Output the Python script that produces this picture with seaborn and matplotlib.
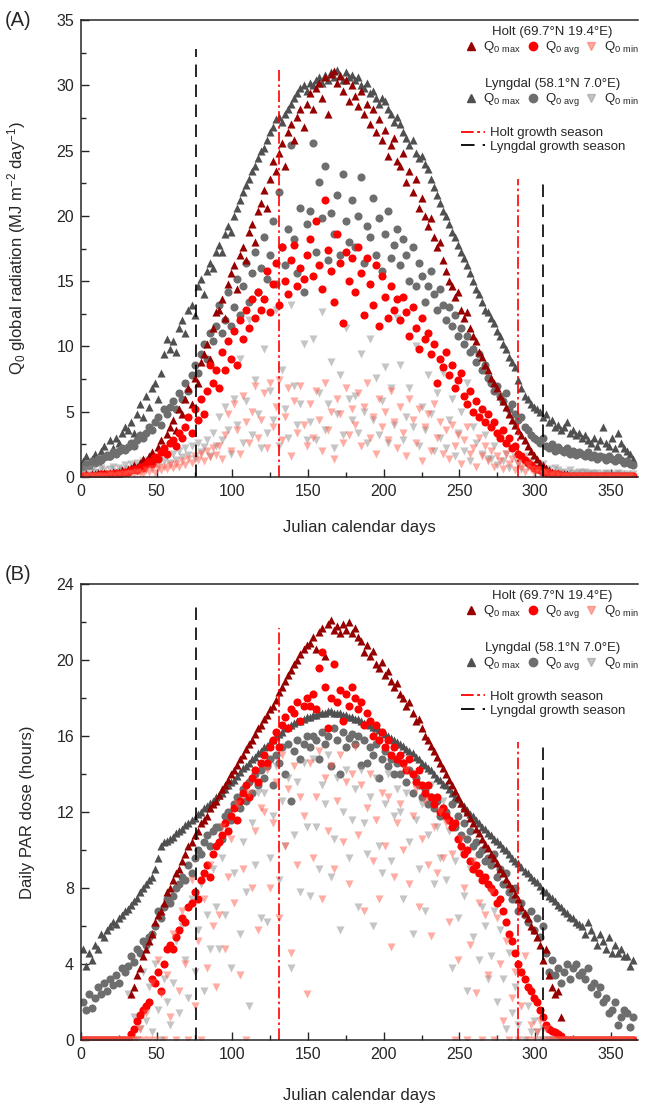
import numpy as np
import matplotlib
matplotlib.use("Agg")
import matplotlib.pyplot as plt
from matplotlib.lines import Line2D
from matplotlib.ticker import MultipleLocator
import seaborn as sns

sns.set_style("ticks")
plt.rcParams["font.family"] = ["Liberation Sans", "DejaVu Sans"]
plt.rcParams["mathtext.default"] = "regular"

# every second day of the year (1, 3, ..., 365)
days = np.arange(1, 366, 2)

# (A) global radiation, MJ m-2 day-1
holt_max_a = [0.1, 0.2, 0.1, 0.2, 0.2, 0.3, 0.2, 0.3, 0.2, 0.3, 0.4, 0.3, 0.4, 0.5, 0.4,
              0.6, 0.7, 0.9, 0.8, 1.1, 1.4, 1.2, 1.6, 1.9, 1.5, 2.3, 2.8, 2.2, 3.3, 3.8,
              4.4, 3.6, 5.2, 4.8, 6.0, 6.8, 5.6, 7.6, 7.2, 8.8, 9.4, 10.2, 9.0, 11.4, 12.6,
              12.8, 13.6, 12.2, 14.8, 15.6, 16.2, 14.4, 17.0, 17.6, 16.6, 18.8, 19.4, 18.0, 20.4, 21.0,
              22.0, 20.6, 22.8, 24.2, 23.4, 24.8, 25.6, 23.8, 26.4, 27.0, 25.8, 27.6, 28.2, 26.8, 28.6,
              29.4, 28.2, 29.8, 30.2, 29.0, 30.6, 27.8, 30.9, 31.1, 30.2, 30.7, 29.6, 30.4, 28.8, 30.0,
              29.2, 28.4, 29.6, 27.8, 28.6, 27.0, 28.2, 26.4, 27.4, 25.8, 26.6, 24.6, 25.4, 26.0, 24.2,
              23.8, 24.8, 22.6, 23.4, 21.8, 22.8, 20.6, 21.4, 20.0, 19.2, 19.8, 18.4, 17.6, 18.0, 16.6,
              15.8, 15.0, 14.6, 13.8, 14.2, 12.8, 12.2, 12.6, 11.4, 10.8, 10.4, 9.6, 9.2, 8.6, 8.2,
              7.6, 7.2, 6.8, 6.2, 5.8, 5.4, 4.8, 4.4, 4.0, 3.6, 3.2, 2.8, 2.4, 2.0, 1.7,
              1.4, 1.1, 0.9, 0.7, 0.5, 0.4, 0.3, 0.3, 0.2, 0.2, 0.2, 0.1, 0.1, 0.1, 0.1,
              0.1, 0.1, 0.1, 0.1, 0.1, 0.1, 0.1, 0.1, 0.1, 0.1, 0.1, 0.1, 0.1, 0.1, 0.1,
              0.1, 0.1, 0.1]
holt_avg_a = [0.1, 0.1, 0.1, 0.1, 0.1, 0.1, 0.2, 0.1, 0.2, 0.2, 0.2, 0.3, 0.2, 0.3, 0.4,
              0.4, 0.5, 0.6, 0.5, 0.8, 0.7, 1.0, 1.2, 1.0, 1.5, 1.4, 1.9, 2.2, 1.8, 2.6,
              2.8, 2.4, 3.4, 3.0, 3.8, 4.6, 3.4, 5.2, 4.4, 6.0, 4.8, 6.6, 8.6, 7.2, 8.2,
              6.8, 9.6, 8.2, 10.4, 9.0, 11.2, 8.6, 12.0, 10.6, 12.8, 11.4, 13.6, 12.2, 14.2, 12.8,
              13.6, 15.8, 12.6, 14.8, 16.4, 13.2, 17.6, 15.0, 14.0, 16.6, 17.8, 14.6, 16.0, 15.2, 17.0,
              18.2, 15.4, 19.6, 16.2, 14.4, 21.2, 17.4, 15.8, 13.4, 18.6, 16.4, 11.8, 17.2, 15.0, 16.8,
              14.2, 17.6, 15.6, 12.4, 16.8, 14.8, 13.2, 16.2, 11.6, 15.4, 13.8, 12.2, 14.6, 12.8, 13.6,
              12.0, 13.8, 12.6, 10.8, 13.0, 11.4, 9.8, 12.2, 10.6, 11.0, 9.4, 10.2, 7.2, 9.0, 8.4,
              9.6, 7.8, 8.6, 6.8, 7.4, 8.0, 6.2, 5.6, 6.6, 5.0, 5.8, 4.6, 5.2, 4.2, 4.8,
              3.8, 4.2, 3.4, 3.0, 3.6, 2.6, 3.0, 2.2, 2.4, 1.8, 1.6, 1.3, 1.1, 0.9, 0.7,
              0.6, 0.5, 0.4, 0.3, 0.3, 0.2, 0.2, 0.2, 0.1, 0.1, 0.1, 0.1, 0.1, 0.1, 0.1,
              0.1, 0.1, 0.1, 0.1, 0.1, 0.1, 0.1, 0.1, 0.1, 0.1, 0.1, 0.1, 0.1, 0.1, 0.1,
              0.1, 0.1, 0.1]
holt_min_a = [0.0, 0.1, 0.0, 0.1, 0.0, 0.1, 0.1, 0.0, 0.1, 0.2, 0.1, 0.1, 0.2, 0.1, 0.2,
              0.2, 0.3, 0.2, 0.4, 0.3, 0.2, 0.5, 0.4, 0.6, 0.3, 0.7, 0.5, 0.8, 0.6, 0.9,
              0.7, 1.0, 0.8, 1.2, 0.9, 1.4, 1.1, 1.6, 1.3, 1.8, 1.2, 2.0, 1.5, 2.2, 1.7,
              2.4, 1.4, 3.2, 4.8, 2.0, 5.6, 3.6, 1.8, 6.2, 4.2, 2.6, 5.0, 7.0, 3.0, 4.4,
              6.4, 2.2, 7.2, 3.8, 5.4, 7.4, 2.8, 4.6, 6.8, 1.6, 5.8, 3.4, 7.0, 4.0, 2.4,
              5.6, 3.0, 6.6, 4.4, 2.0, 7.2, 3.6, 5.0, 1.4, 6.0, 4.8, 2.6, 6.8, 3.2, 5.2,
              4.0, 6.4, 2.4, 5.4, 7.2, 3.0, 4.6, 1.8, 6.0, 3.8, 5.0, 2.8, 6.6, 4.2, 2.2,
              5.4, 3.4, 1.6, 6.0, 4.4, 2.6, 5.2, 1.2, 3.8, 4.8, 2.0, 5.6, 3.0, 4.2, 1.8,
              3.6, 1.4, 4.0, 2.4, 3.2, 1.0, 2.8, 3.8, 1.8, 2.2, 0.8, 3.0, 1.6, 2.4, 1.2,
              2.0, 0.8, 1.6, 1.2, 0.6, 1.8, 1.0, 1.4, 0.5, 1.1, 0.8, 0.4, 0.9, 0.6, 0.3,
              0.5, 0.3, 0.2, 0.4, 0.1, 0.2, 0.1, 0.2, 0.0, 0.1, 0.1, 0.0, 0.1, 0.0, 0.1,
              0.0, 0.1, 0.0, 0.0, 0.1, 0.0, 0.1, 0.0, 0.0, 0.1, 0.0, 0.0, 0.1, 0.0, 0.0,
              0.0, 0.1, 0.0]
lyn_max_a = [1.2, 1.6, 0.9, 1.4, 1.8, 1.2, 2.0, 2.4, 1.6, 2.8, 2.2, 3.0, 2.6, 3.4, 3.8,
             3.6, 4.2, 3.4, 4.8, 5.6, 4.6, 6.2, 5.4, 6.8, 7.2, 6.0, 8.0, 9.4, 10.6, 9.8,
             10.4, 9.6, 11.4, 12.0, 11.0, 12.8, 13.2, 12.4, 14.6, 15.2, 14.0, 15.8, 16.4, 16.0, 17.2,
             17.8, 17.2, 18.6, 19.2, 18.8, 20.0, 20.6, 21.2, 21.8, 22.4, 22.8, 23.4, 23.8, 24.4, 25.0,
             25.2, 25.8, 26.4, 26.8, 27.4, 27.6, 27.2, 27.8, 28.2, 28.6, 29.0, 29.4, 29.8, 30.0, 29.6,
             30.2, 30.0, 30.4, 30.6, 30.2, 30.8, 30.4, 31.0, 30.6, 31.2, 30.8, 30.4, 31.0, 30.6, 30.8,
             30.4, 30.6, 30.0, 29.8, 30.2, 29.4, 29.6, 29.0, 28.6, 29.0, 28.8, 28.2, 27.8, 27.2, 27.6,
             27.0, 26.4, 26.0, 25.4, 25.8, 24.8, 24.4, 24.6, 24.0, 23.6, 22.8, 22.2, 21.6, 21.0, 20.4,
             20.0, 19.4, 18.8, 18.4, 17.8, 17.2, 16.8, 16.2, 15.6, 15.0, 14.4, 14.0, 13.4, 12.8, 12.6,
             12.2, 11.8, 11.2, 10.8, 10.2, 9.8, 9.2, 8.8, 8.4, 7.4, 6.8, 6.2, 6.0, 5.6, 5.4,
             5.2, 5.0, 4.6, 4.8, 4.2, 4.4, 3.8, 4.0, 3.6, 3.8, 4.2, 3.4, 3.6, 3.2, 3.4,
             3.0, 3.2, 2.8, 2.6, 3.0, 2.4, 2.8, 3.8, 2.6, 2.4, 3.0, 2.2, 3.4, 2.6, 2.2,
             2.0, 1.8, 1.4]
lyn_avg_a = [0.8, 1.0, 0.9, 1.2, 1.1, 1.4, 1.3, 1.5, 1.7, 1.6, 1.9, 1.8, 2.0, 2.2, 2.1,
             2.3, 2.6, 2.4, 2.8, 3.2, 3.0, 3.4, 3.8, 3.6, 4.2, 4.6, 4.0, 5.2, 4.8, 5.4,
             5.8, 5.2, 6.4, 6.0, 7.2, 6.6, 7.8, 8.6, 8.0, 9.4, 10.2, 9.0, 11.0, 10.4, 11.6,
             13.2, 11.0, 12.0, 14.2, 11.6, 13.0, 15.2, 12.4, 14.6, 16.4, 13.4, 15.6, 17.2, 14.2, 16.0,
             18.4, 15.2, 17.0, 19.6, 14.8, 21.8, 17.6, 16.2, 19.0, 25.4, 18.2, 15.6, 20.6, 14.2, 19.4,
             20.4, 25.6, 17.2, 22.6, 19.8, 23.8, 16.6, 20.2, 18.6, 21.6, 17.0, 23.2, 19.6, 18.0, 21.2,
             17.6, 20.0, 23.0, 16.4, 19.2, 18.4, 21.4, 17.0, 19.8, 15.8, 18.6, 20.4, 16.8, 17.8, 19.0,
             16.2, 18.2, 17.0, 15.0, 17.6, 14.6, 16.4, 15.4, 13.4, 14.6, 15.8, 14.0, 12.8, 14.4, 13.2,
             12.0, 13.0, 11.6, 12.4, 10.8, 11.4, 10.2, 10.8, 9.6, 9.8, 8.8, 9.4, 8.2, 8.6, 7.6,
             7.2, 6.6, 7.0, 6.2, 5.8, 6.4, 5.2, 5.6, 4.8, 4.4, 4.6, 3.8, 3.6, 3.2, 3.0,
             2.8, 2.6, 3.0, 2.4, 2.2, 2.5, 2.0, 2.3, 2.1, 1.9, 2.2, 1.8, 2.0, 1.7, 1.9,
             1.8, 1.6, 1.9, 1.5, 1.7, 1.4, 1.6, 1.5, 1.3, 1.6, 1.4, 1.2, 1.5, 1.3, 1.1,
             1.2, 1.0, 0.9]
lyn_min_a = [0.3, 0.5, 0.2, 0.6, 0.4, 0.3, 0.7, 0.5, 0.2, 0.6, 0.8, 0.4, 0.7, 0.5, 0.9,
             0.6, 1.0, 0.5, 1.1, 0.8, 1.2, 0.7, 1.3, 1.0, 1.4, 0.9, 1.5, 1.2, 1.6, 1.1,
             1.8, 1.3, 2.0, 1.5, 2.2, 1.7, 2.4, 1.4, 2.6, 1.9, 2.3, 2.8, 1.6, 3.4, 2.4,
             4.6, 2.8, 5.4, 3.6, 1.8, 6.0, 4.0, 9.0, 2.6, 5.8, 12.0, 3.2, 7.4, 4.8, 2.2,
             9.8, 3.4, 6.6, 4.4, 12.8, 2.4, 8.2, 5.2, 3.0, 13.2, 7.0, 4.0, 5.6, 10.2, 2.8,
             4.2, 10.6, 2.8, 6.4, 12.6, 3.6, 5.6, 8.8, 2.2, 4.8, 7.8, 3.2, 11.4, 6.0, 4.4,
             6.2, 3.4, 9.4, 5.0, 2.6, 10.6, 4.4, 7.6, 3.2, 5.8, 8.4, 2.6, 6.8, 4.0, 12.2,
             8.6, 2.8, 4.6, 6.8, 3.8, 10.0, 2.4, 5.4, 3.6, 7.8, 4.8, 2.0, 6.4, 3.0, 8.0,
             2.2, 4.4, 6.0, 1.6, 3.4, 5.0, 2.0, 7.2, 1.2, 3.8, 2.6, 4.6, 1.8, 3.2, 1.4,
             1.4, 2.4, 0.9, 3.0, 1.2, 1.8, 0.7, 2.2, 1.5, 1.0, 0.6, 1.6, 0.8, 1.2, 0.5,
             0.8, 0.5, 1.0, 0.4, 0.6, 0.3, 0.7, 0.5, 0.3, 0.4, 0.2, 0.5, 0.3, 0.2, 0.4,
             0.3, 0.4, 0.2, 0.3, 0.2, 0.3, 0.1, 0.2, 0.3, 0.2, 0.1, 0.2, 0.3, 0.2, 0.1,
             0.2, 0.1, 0.2]

# (B) daily PAR dose, hours
holt_max_b = [0, 0, 0, 0, 0, 0, 0, 0, 0, 0, 0, 0, 0, 0, 0,
              0, 2.4, 2.8, 3.4, 3.8, 4.4, 4.8, 5.2, 5.6, 6.2, 6.6, 6.8, 7.2, 7.8, 8.0,
              8.4, 8.8, 9.0, 9.4, 9.8, 10.2, 10.4, 10.8, 11.0, 11.4, 11.6, 11.8, 12.2, 12.4, 12.6,
              12.9, 13.2, 13.4, 13.7, 14.0, 14.2, 14.5, 14.8, 15.0, 15.3, 15.6, 15.8, 16.1, 16.4, 16.6,
              16.9, 17.1, 17.4, 17.6, 17.9, 18.3, 18.6, 18.9, 19.2, 19.5, 19.8, 20.0, 20.3, 20.6, 20.8,
              20.9, 21.2, 20.6, 21.5, 21.7, 20.2, 21.9, 22.1, 21.6, 21.8, 21.4, 21.9, 21.6, 22.0, 21.4,
              21.7, 21.2, 21.0, 20.4, 20.8, 20.2, 20.5, 19.8, 19.6, 19.9, 19.2, 19.4, 18.9, 18.6, 18.8,
              18.2, 18.0, 17.6, 17.8, 17.2, 16.8, 16.9, 16.4, 16.0, 15.8, 15.5, 15.2, 14.9, 14.6, 14.3,
              14.0, 13.7, 13.4, 13.1, 12.8, 12.5, 12.2, 12.0, 11.7, 11.4, 11.1, 10.9, 10.6, 10.3, 10.1,
              9.8, 9.6, 9.3, 9.0, 8.8, 8.5, 8.2, 8.0, 7.7, 7.4, 7.0, 6.7, 6.4, 6.0, 5.8,
              5.4, 5.0, 4.2, 4.8, 3.4, 2.8, 2.4, 2.6, 1.2, 0, 0, 0, 0, 0, 0,
              0, 0, 0, 0, 0, 0, 0, 0, 0, 0, 0, 0, 0, 0, 0,
              0, 0, 0]
holt_avg_b = [0, 0, 0, 0, 0, 0, 0, 0, 0, 0, 0, 0, 0, 0, 0,
              0, 0.3, 0.6, 1.0, 1.3, 1.6, 1.8, 2.0, 3.2, 3.0, 3.6, 2.6, 4.0, 4.8, 5.0,
              4.8, 5.4, 5.8, 6.4, 6.2, 7.0, 7.2, 7.8, 7.4, 8.4, 8.8, 9.2, 8.6, 9.8, 10.2,
              10.4, 10.8, 11.4, 11.0, 11.8, 12.2, 11.6, 12.6, 13.0, 13.4, 12.8, 13.8, 14.2, 13.6, 14.6,
              15.0, 14.6, 15.4, 15.8, 16.2, 15.4, 16.6, 17.0, 16.4, 17.4, 17.2, 17.8, 16.8, 17.6, 18.0,
              17.6, 18.2, 17.4, 19.6, 20.4, 18.6, 16.4, 18.0, 19.8, 17.8, 18.4, 16.8, 18.2, 17.6, 18.6,
              18.0, 17.4, 17.8, 16.6, 17.2, 16.8, 16.0, 16.6, 15.8, 16.2, 15.4, 15.8, 15.0, 15.4, 14.8,
              15.0, 14.6, 14.2, 14.8, 14.0, 13.6, 14.2, 13.4, 13.0, 13.4, 12.8, 12.4, 12.8, 12.0, 12.2,
              11.8, 11.6, 11.2, 11.4, 10.6, 10.2, 9.8, 10.0, 9.4, 9.0, 9.2, 8.8, 8.4, 8.6, 8.2,
              8.0, 7.8, 7.2, 7.4, 6.8, 6.2, 5.6, 5.2, 4.6, 4.0, 3.6, 3.2, 2.8, 2.6, 2.2,
              2.0, 1.6, 1.2, 0.8, 0.6, 0.5, 0.4, 0.3, 0.2, 0, 0, 0, 0, 0, 0,
              0, 0, 0, 0, 0, 0, 0, 0, 0, 0, 0, 0, 0, 0, 0,
              0, 0, 0]
holt_min_b = [0, 0, 0, 0, 0, 0, 0, 0, 0, 0, 0, 0, 0, 0, 0,
              0, 0, 0, 0, 0.6, 0, 1.4, 0, 3.0, 0, 4.2, 2.4, 0, 3.4, 1.2,
              5.6, 0, 2.6, 6.8, 4.0, 0, 8.4, 1.8, 5.2, 0, 7.4, 3.8, 9.2, 6.0, 2.8,
              6.6, 11.2, 4.8, 8.6, 10.6, 7.2, 12.4, 3.4, 9.0, 0, 13.0, 8.0, 11.0, 5.8, 12.2,
              12.0, 14.2, 8.0, 11.4, 13.6, 6.4, 15.0, 10.2, 13.2, 4.6, 14.4, 9.2, 12.8, 11.8, 2.4,
              14.6, 9.6, 12.8, 15.2, 7.4, 13.8, 11.0, 14.4, 9.0, 12.6, 15.0, 10.4, 13.6, 8.2, 14.0,
              15.4, 10.8, 13.4, 6.8, 12.2, 14.0, 9.4, 11.6, 7.4, 13.0, 10.2, 12.8, 4.9, 8.6, 11.4,
              12.4, 10.0, 14.2, 8.2, 11.8, 13.2, 7.0, 10.6, 12.6, 9.2, 5.5, 11.2, 8.8, 12.0, 9.6,
              11.4, 6.2, 9.8, 0, 4.2, 10.6, 8.0, 0, 5.0, 9.4, 2.5, 7.2, 0, 6.6, 3.4,
              7.8, 0, 6.4, 4.0, 1.0, 5.2, 0, 2.2, 3.6, 0, 1.8, 4.4, 0, 0.8, 0,
              0.4, 1.0, 0, 0.6, 0, 0, 0, 0, 0, 0, 0, 0, 0, 0, 0,
              0, 0, 0, 0, 0, 0, 0, 0, 0, 0, 0, 0, 0, 0, 0,
              0, 0, 0]
lyn_max_b = [4.8, 3.9, 4.6, 4.2, 5.0, 4.8, 5.6, 5.4, 5.8, 6.0, 6.2, 6.1, 6.4, 6.6, 6.8,
             6.9, 7.1, 7.3, 7.5, 7.8, 8.0, 8.2, 8.4, 8.6, 9.0, 9.6, 10.2, 10.4, 10.5, 10.6,
             10.7, 10.9, 11.0, 11.1, 11.3, 11.4, 11.6, 11.7, 11.9, 12.0, 12.2, 12.3, 12.5, 12.6, 12.8,
             12.9, 13.0, 13.2, 13.4, 13.6, 13.7, 13.9, 14.1, 14.3, 14.4, 14.6, 14.8, 14.9, 15.1, 15.2,
             15.4, 15.5, 15.7, 15.8, 16.0, 16.1, 16.2, 16.4, 16.5, 16.6, 16.7, 16.8, 16.8, 16.9, 17.0,
             17.0, 17.1, 17.1, 17.2, 17.2, 17.2, 17.3, 17.3, 17.2, 17.2, 17.2, 17.1, 17.1, 17.0, 17.0,
             16.9, 16.9, 16.8, 16.7, 16.7, 16.6, 16.5, 16.4, 16.3, 16.2, 16.1, 16.0, 15.9, 15.8, 15.7,
             15.6, 15.5, 15.3, 15.2, 15.1, 14.9, 14.8, 14.6, 14.5, 14.3, 14.2, 14.0, 13.8, 13.7, 13.5,
             13.4, 13.2, 13.0, 12.8, 12.7, 12.5, 12.3, 12.1, 11.9, 11.8, 11.6, 11.4, 11.2, 11.1, 10.9,
             10.8, 10.6, 10.5, 10.3, 10.1, 10.0, 9.8, 9.6, 9.4, 9.3, 9.1, 8.9, 8.8, 8.6, 8.4,
             8.3, 8.1, 7.9, 7.8, 7.6, 7.5, 7.3, 7.1, 7.0, 6.8, 6.7, 6.5, 6.4, 6.2, 6.1,
             6.0, 5.6, 6.2, 5.8, 5.4, 5.0, 5.6, 5.2, 4.8, 5.4, 4.6, 5.0, 4.6, 4.8, 4.4,
             4.4, 3.9, 4.2]
lyn_avg_b = [2.0, 1.6, 2.4, 1.7, 2.2, 2.8, 2.4, 3.0, 2.6, 3.2, 2.9, 3.4, 3.0, 3.8, 3.6,
             3.9, 4.4, 4.1, 4.8, 4.6, 5.2, 5.0, 5.4, 5.6, 6.0, 6.8, 6.4, 7.0, 7.4, 7.2,
             7.6, 8.0, 8.2, 8.6, 8.4, 9.2, 8.8, 9.6, 10.0, 9.8, 10.4, 10.8, 10.2, 11.0, 11.2,
             11.2, 10.6, 11.8, 12.0, 11.6, 12.4, 12.8, 12.2, 13.2, 12.6, 13.6, 13.0, 14.0, 13.4, 14.2,
             13.8, 14.4, 14.8, 13.4, 15.0, 14.6, 15.4, 14.0, 15.6, 12.6, 15.2, 15.8, 14.8, 15.6, 16.0,
             15.4, 16.0, 15.8, 14.8, 16.2, 15.6, 16.0, 14.4, 16.4, 15.8, 14.0, 16.2, 15.4, 15.9, 16.1,
             15.6, 16.0, 14.5, 15.8, 14.6, 15.4, 15.0, 15.6, 13.8, 14.8, 15.2, 14.4, 14.8, 14.0, 14.6,
             14.0, 14.6, 13.6, 14.2, 13.0, 13.8, 13.4, 12.8, 13.2, 12.4, 12.8, 12.2, 12.6, 11.8, 12.2,
             12.0, 11.6, 12.4, 11.2, 11.8, 10.8, 11.4, 10.6, 11.0, 10.2, 10.4, 9.8, 10.0, 9.4, 9.6,
             9.2, 9.8, 8.6, 9.0, 8.2, 8.8, 7.8, 7.4, 8.0, 6.8, 7.2, 6.6, 6.2, 6.8, 5.8,
             6.4, 5.4, 6.0, 4.6, 3.6, 4.2, 3.4, 3.8, 3.0, 3.6, 4.0, 3.2, 3.8, 4.0, 3.4,
             3.6, 3.2, 3.8, 2.8, 3.0, 2.4, 2.8, 2.0, 2.2, 1.4, 1.6, 2.0, 0.8, 1.2, 1.6,
             1.4, 0.7, 1.2]
lyn_min_b = [0, 0, 0, 0, 0, 0, 0, 0, 0, 0, 0, 0, 0, 0, 0,
             2.4, 0, 1.2, 0, 0.6, 3.6, 1.0, 2.8, 0.4, 4.0, 1.6, 0, 3.2, 2.0, 0.8,
             3.0, 5.2, 1.4, 6.0, 4.2, 2.2, 7.4, 3.6, 5.8, 8.2, 2.6, 6.6, 4.8, 9.0, 7.0,
             4.8, 9.6, 6.6, 11.0, 3.8, 8.8, 12.2, 5.6, 10.4, 7.8, 1.8, 11.4, 9.2, 13.0, 6.4,
             13.0, 6.2, 9.6, 11.8, 14.4, 8.4, 12.6, 10.2, 13.8, 3.8, 10.8, 13.6, 7.8, 14.6, 11.2,
             7.6, 14.8, 11.2, 9.0, 13.4, 12.4, 15.0, 8.6, 10.6, 13.8, 5.8, 12.0, 14.2, 9.6, 11.6,
             13.2, 7.0, 14.2, 11.4, 9.8, 12.8, 6.0, 13.8, 10.2, 8.8, 12.4, 14.0, 9.4, 11.8, 13.2,
             12.0, 7.4, 13.0, 10.4, 5.6, 11.6, 9.0, 12.4, 6.8, 10.8, 13.4, 8.2, 11.2, 9.6, 12.6,
             8.4, 11.0, 3.8, 9.4, 6.4, 10.0, 7.6, 2.6, 9.0, 5.4, 8.8, 4.2, 7.0, 6.0, 3.2,
             4.4, 6.8, 2.0, 5.8, 3.2, 0.6, 4.6, 1.4, 2.8, 0.8, 3.6, 0, 1.8, 0.4, 1.0,
             0.4, 0, 0.6, 0, 0, 0, 0, 0, 0, 0, 0, 0, 0, 0, 0,
             0, 0, 0, 0, 0, 0, 0, 0, 0, 0, 0, 0, 0, 0, 0,
             0, 0, 0]

# growth season limits (day of year)
holt_season = [131, 289]
lyngdal_season = [76, 305]

styles = {
    "lyn_max": ("^", "#505050", 1.0),
    "lyn_avg": ("o", "#6e6e6e", 1.0),
    "lyn_min": ("v", "#8c8c8c", 0.5),
    "holt_max": ("^", "#960000", 1.0),
    "holt_avg": ("o", "#ff0000", 1.0),
    "holt_min": ("v", "#ff5a4a", 0.5),
}
red_dash = (0, (7, 2, 1.5, 2))
black_dash = (0, (7.5, 4.5))
q_labels = [r"Q$_{0\ max}$", r"Q$_{0\ avg}$", r"Q$_{0\ min}$"]


def draw_panel(ax, series, line_tops, ymax, ystep, yminor, ylabel, ylab_x, xlab_y):
    for name, vals in series:
        marker, color, alpha = styles[name]
        sns.scatterplot(x=days, y=vals, marker=marker, color=color, alpha=alpha,
                        s=34, linewidth=0, legend=False, ax=ax)
    ax.vlines(holt_season, 0, line_tops[0], colors="red", linestyles=[red_dash], lw=1.2)
    ax.vlines(lyngdal_season, 0, line_tops[1], colors="black", linestyles=[black_dash], lw=1.2)

    ax.set_xlim(0, 368)
    ax.set_ylim(0, ymax)
    ax.xaxis.set_major_locator(MultipleLocator(50))
    ax.xaxis.set_minor_locator(MultipleLocator(25))
    ax.yaxis.set_major_locator(MultipleLocator(ystep))
    ax.yaxis.set_minor_locator(MultipleLocator(yminor))
    ax.tick_params(which="both", direction="in", width=1.0, labelsize=11.5, pad=5)
    ax.tick_params(which="major", length=6)
    ax.tick_params(which="minor", length=3.5)
    ax.spines["right"].set_visible(False)
    for sp in ["left", "bottom", "top"]:
        ax.spines[sp].set_linewidth(1.1)

    ax.set_xlabel("Julian calendar days", fontsize=12)
    ax.set_ylabel(ylabel, fontsize=12)
    ax.xaxis.set_label_coords(0.5, xlab_y)
    ax.yaxis.set_label_coords(ylab_x, 0.5)

    kw = dict(frameon=False, fontsize=9.5, title_fontsize=9.5, borderpad=0,
              borderaxespad=0, labelspacing=0.1)
    holt_h = [Line2D([], [], marker=styles[k][0], color=styles[k][1], alpha=styles[k][2],
                     ls="none", markersize=6) for k in ["holt_max", "holt_avg", "holt_min"]]
    lyn_h = [Line2D([], [], marker=styles[k][0], color=styles[k][1], alpha=styles[k][2],
                    ls="none", markersize=6) for k in ["lyn_max", "lyn_avg", "lyn_min"]]
    leg1 = ax.legend(holt_h, q_labels, title="Holt (69.7°N 19.4°E)", ncol=3,
                     loc="upper center", bbox_to_anchor=(0.846, 0.987),
                     handlelength=0.8, handletextpad=0.55, columnspacing=0.45, **kw)
    ax.add_artist(leg1)
    leg2 = ax.legend(lyn_h, q_labels, title="Lyngdal (58.1°N 7.0°E)", ncol=3,
                     loc="upper center", bbox_to_anchor=(0.846, 0.873),
                     handlelength=0.8, handletextpad=0.55, columnspacing=0.45, **kw)
    ax.add_artist(leg2)
    line_h = [Line2D([], [], color="red", ls=red_dash, lw=1.3),
              Line2D([], [], color="black", ls=black_dash, lw=1.3)]
    ax.legend(line_h, ["Holt growth season", "Lyngdal growth season"],
              loc="upper left", bbox_to_anchor=(0.683, 0.766),
              handlelength=1.75, handletextpad=0.45, **kw)


fig = plt.figure(figsize=(6.45, 11.07), dpi=100)
ax_a = fig.add_axes([0.1256, 0.5691, 0.8636, 0.4128])
ax_b = fig.add_axes([0.1256, 0.0605, 0.8636, 0.4119])

draw_panel(ax_a,
           [("lyn_max", lyn_max_a), ("lyn_avg", lyn_avg_a), ("lyn_min", lyn_min_a),
            ("holt_max", holt_max_a), ("holt_avg", holt_avg_a), ("holt_min", holt_min_a)],
           line_tops=([31.2, 22.8], [32.8, 22.6]), ymax=35, ystep=5, yminor=2.5,
           ylabel=r"Q$_0$ global radiation (MJ m$^{-2}$ day$^{-1}$)",
           ylab_x=-0.095, xlab_y=-0.094)
draw_panel(ax_b,
           [("lyn_max", lyn_max_b), ("lyn_avg", lyn_avg_b), ("lyn_min", lyn_min_b),
            ("holt_max", holt_max_b), ("holt_avg", holt_avg_b), ("holt_min", holt_min_b)],
           line_tops=([21.7, 15.7], [22.8, 15.4]), ymax=24, ystep=4, yminor=2,
           ylabel="Daily PAR dose (hours)",
           ylab_x=-0.083, xlab_y=-0.105)

fig.text(0.008, 1 - 21 / 1107, "(A)", fontsize=14.5, va="center")
fig.text(0.008, 1 - 575 / 1107, "(B)", fontsize=14.5, va="center")

fig.savefig("out.png", dpi=100)
